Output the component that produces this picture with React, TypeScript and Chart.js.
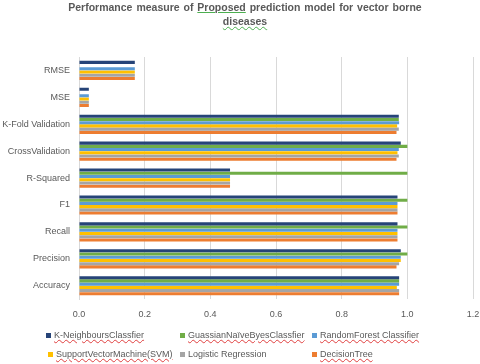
import React, { useEffect, useRef } from "react";
import { Chart, registerables } from "chart.js";
Chart.register(...registerables);

const categories = ["RMSE", "MSE", "K-Fold Validation", "CrossValidation", "R-Squared", "F1", "Recall", "Precision", "Accuracy"];
const knnValues = [0.17, 0.03, 0.974, 0.98, 0.46, 0.97, 0.97, 0.98, 0.975];
const gnbValues = [0, 0, 0.974, 1.0, 1.0, 1.0, 1.0, 1.0, 0.975];
const rfValues = [0.17, 0.03, 0.975, 0.974, 0.46, 0.97, 0.97, 0.98, 0.975];
const svmValues = [0.17, 0.03, 0.969, 0.97, 0.46, 0.97, 0.97, 0.98, 0.968];
const lrValues = [0.17, 0.03, 0.974, 0.974, 0.46, 0.97, 0.97, 0.975, 0.975];
const dtValues = [0.17, 0.03, 0.967, 0.967, 0.46, 0.97, 0.97, 0.967, 0.975];

const seriesNames = [
  "K-NeighboursClassfier",
  "GuassianNaïveByesClassfier",
  "RandomForest Classifier",
  "SupportVectorMachine(SVM)",
  "Logistic Regression",
  "DecisionTree",
];
const seriesColors = ["#264478", "#70AD47", "#5B9BD5", "#FFC000", "#A5A5A5", "#ED7D31"];
const seriesValues = [knnValues, gnbValues, rfValues, svmValues, lrValues, dtValues];

const FONT = "'Liberation Sans', Arial, sans-serif";

const legendPos = [
  { x: 46, y: 335 },
  { x: 180, y: 335 },
  { x: 312, y: 335 },
  { x: 48, y: 354 },
  { x: 180, y: 354 },
  { x: 312, y: 354 },
];
const squiggly = [true, true, true, true, false, true];

const wavyGreen = {
  textDecorationLine: "underline",
  textDecorationStyle: "wavy",
  textDecorationColor: "#4caf50",
  textDecorationThickness: "1px",
} as any;

export default function App() {
  const ref = useRef<HTMLCanvasElement | null>(null);
  useEffect(() => {
    if (!ref.current) return;
    const chart = new Chart(ref.current, {
      type: "bar",
      data: {
        labels: categories,
        datasets: seriesNames.map((n, i) => ({
          label: n,
          data: seriesValues[i],
          backgroundColor: seriesColors[i],
          borderWidth: 0,
          categoryPercentage: 0.72,
          barPercentage: 0.95,
        })),
      },
      options: {
        indexAxis: "y",
        animation: false,
        responsive: false,
        maintainAspectRatio: false,
        layout: { padding: { left: 0, right: 7, top: 57, bottom: 34 } },
        plugins: {
          legend: { display: false },
          tooltip: { enabled: false },
          title: { display: false },
        },
        scales: {
          x: {
            min: 0,
            max: 1.2,
            afterFit: (s: any) => {
              s.paddingRight = 0;
            },
            ticks: {
              stepSize: 0.2,
              color: "#595959",
              font: { family: FONT, size: 9 },
              padding: 10,
              callback: (v: any) => Number(v).toFixed(1),
            },
            grid: { color: "#D9D9D9", drawTicks: false },
            border: { display: false },
          },
          y: {
            afterFit: (s: any) => {
              s.width = 79;
            },
            ticks: {
              color: "#595959",
              font: { family: FONT, size: 9 },
              padding: 9,
            },
            grid: { display: false, drawTicks: false },
            border: { display: true, color: "#D9D9D9" },
          },
        },
      },
    });
    return () => chart.destroy();
  }, []);
  return (
    <div style={{ position: "absolute", left: 0, top: 0, width: 480, height: 364, background: "#fff", fontFamily: FONT }}>
      <canvas ref={ref} width={480} height={364} style={{ position: "absolute", left: 0, top: 0 }} />
      <div
        style={{
          position: "absolute",
          left: 10,
          top: 1,
          width: 470,
          textAlign: "center",
          fontSize: 10.5,
          fontWeight: "bold",
          lineHeight: "13.5px",
          color: "#595959",
          wordSpacing: 1,
        }}
      >
        Performance measure of <span style={{ textDecoration: "underline", textDecorationColor: "#4caf50" }}>Proposed</span> prediction model for vector borne
        <br />
        <span style={wavyGreen}>diseases</span>
      </div>
      {seriesNames.map((n, i) => (
        <div
          key={n}
          style={{
            position: "absolute",
            left: legendPos[i].x,
            top: legendPos[i].y - 6,
            height: 12,
            display: "flex",
            alignItems: "center",
            fontSize: 9,
            color: "#595959",
            whiteSpace: "nowrap",
          }}
        >
          <span style={{ display: "inline-block", width: 5, height: 5, background: seriesColors[i], marginRight: 3 }} />
          <span
            style={
              squiggly[i]
                ? { textDecorationLine: "underline", textDecorationStyle: "wavy", textDecorationColor: "#e04040", textDecorationThickness: "1px" }
                : {}
            }
          >
            {n}
          </span>
        </div>
      ))}
    </div>
  );
}
